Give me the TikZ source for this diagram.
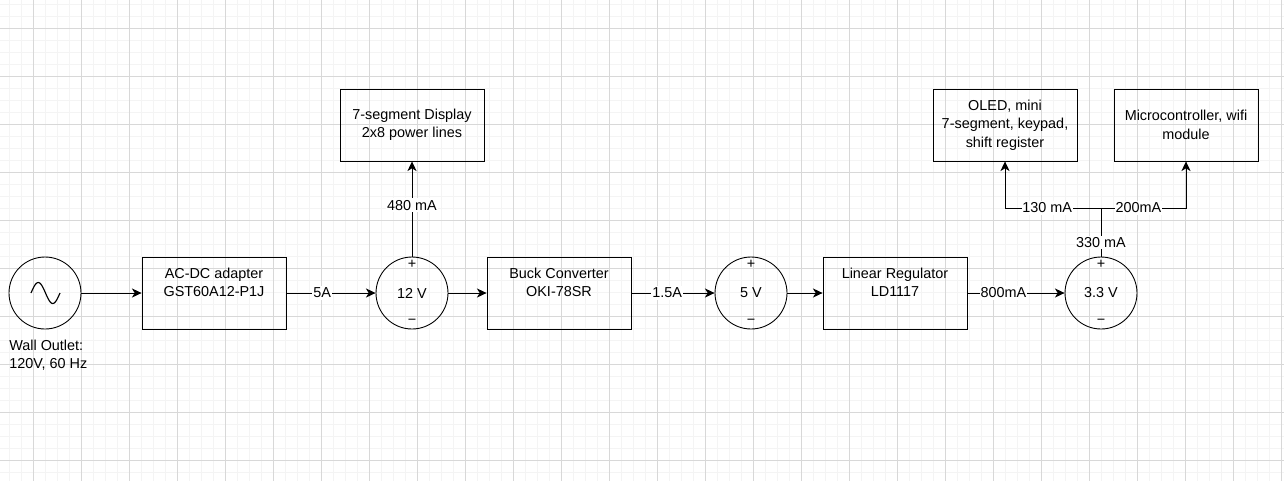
\documentclass[tikz,border=0pt]{standalone}
\usepackage{fontspec}
\setmainfont{Liberation Sans}
\usetikzlibrary{arrows.meta,positioning}
\definecolor{gridmajor}{RGB}{216,216,216}
\definecolor{gridminor}{RGB}{244,244,244}

\begin{document}
\begin{tikzpicture}[x=0.02cm,y=-0.02cm,line width=0.5pt,
      every node/.style={font=\fontsize{8.2}{10.5}\selectfont},
      block/.style={draw,minimum width=2.88cm,minimum height=1.44cm,inner sep=1pt,align=center},
      lowblock/.style={block,label={[align=center,yshift=6.2pt]center:#1}},
      acsrc/.style={draw,circle,minimum size=1.44cm,inner sep=0pt},
      rail/.style={acsrc,label={[yshift=16.4pt]center:+},label={[yshift=-16.4pt]center:−}},
      flow/.style={-{Stealth[length=5.5pt,width=5.2pt,inset=1.6pt]}},
      amp/.style={fill=white,inner xsep=0.5pt,inner ysep=1pt},
      minorgrid/.style={gridminor,line width=0.4pt},
      majorgrid/.style={gridmajor,line width=0.45pt}]
    \useasboundingbox[fill=white] (0,0) rectangle (1284,481);
    % background grid
    \foreach \gx in {9,21,...,1281}
      \draw[minorgrid] (\gx,0) -- (\gx,481);
    \foreach \gy in {4,16,...,480}
      \draw[minorgrid] (0,\gy) -- (1284,\gy);
    \foreach \gx in {33,81,...,1281}
      \draw[majorgrid] (\gx,0) -- (\gx,481);
    \foreach \gy in {28,76,...,480}
      \draw[majorgrid] (0,\gy) -- (1284,\gy);

    % source
    \node[acsrc] (outlet) at (45,293) {};
    \draw[line width=0.65pt] plot[domain=0:360,samples=37,smooth]
      ({31+\x/360*29},{293-10.5*sin(\x)});
    \node[anchor=west,align=left] (outlettxt) at (3,355) {Wall Outlet:\\120V, 60 Hz};

    % power chain
    \node[lowblock={AC-DC adapter\\GST60A12-P1J}] (adapter) at (214,293) {};
    \node[rail] (v12) at (412,293) {12 V};
    \node[block] (disp) at (412,125) {7-segment Display\\2x8 power lines};
    \node[lowblock={Buck Converter\\OKI-78SR}] (buck) at (559,293) {};
    \node[rail] (v5) at (751,293) {5 V};
    \node[lowblock={Linear Regulator\\LD1117}] (linreg) at (895,293) {};
    \node[rail] (v33) at (1101,293) {3.3 V};
    \node[block] (oled) at (1005,125) {OLED, mini\\7-segment, keypad,\\shift register};
    \node[block] (mcu) at (1186,125) {Microcontroller, wifi\\module};
    \coordinate (split) at (1101,208);

    % connections
    \draw[flow] (outlet) -- (adapter);
    \draw[flow] (adapter) -- node[amp,pos=.4]{5A} (v12);
    \draw[flow] (v12) -- node[amp,pos=.54]{480 mA} (disp);
    \draw[flow] (v12) -- (buck);
    \draw[flow] (buck) -- node[amp,pos=.43]{1.5A} (v5);
    \draw[flow] (v5) -- (linreg);
    \draw[flow] (linreg) -- node[amp,pos=.37]{800mA} (v33);
    \draw (v33) -- node[amp,pos=.29]{330 mA} (split);
    \draw[flow] (split) -| node[amp,pos=.28]{130 mA} (oled);
    \draw[flow] (split) -| node[amp,pos=.22]{200mA} (mcu);
  \end{tikzpicture}
\end{document}
